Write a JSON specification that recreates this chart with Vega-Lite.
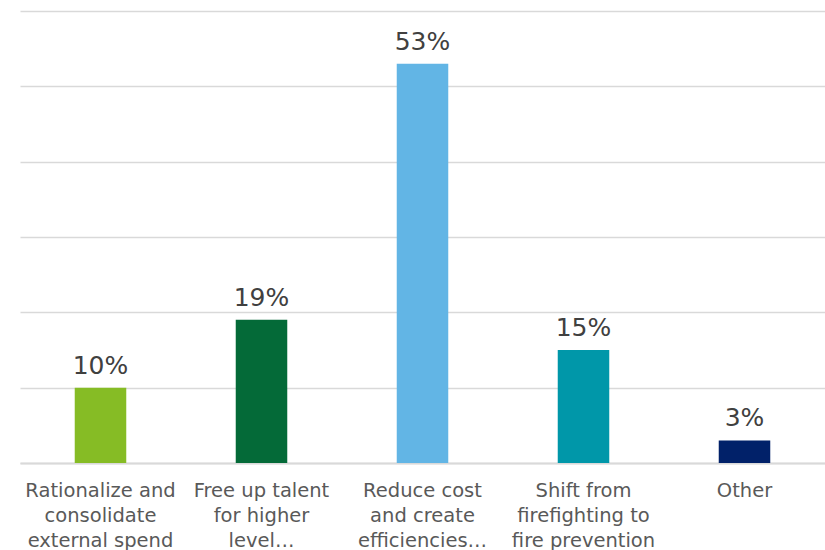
{
  "$schema": "https://vega.github.io/schema/vega-lite/v6.json",
  "width": 805,
  "height": 452,
  "autosize": {"type": "none"},
  "padding": {"left": 20, "top": 11, "right": 0, "bottom": 87},
  "background": "white",
  "config": {"view": {"stroke": null}, "font": "DejaVu Sans"},
  "data": {
    "values": [
      {"label": "Rationalize and|consolidate|external spend", "value": 0.10, "color": "#86bc25"},
      {"label": "Free up talent|for higher|level…", "value": 0.19, "color": "#046a38"},
      {"label": "Reduce cost|and create|efficiencies…", "value": 0.53, "color": "#62b5e5"},
      {"label": "Shift from|firefighting to|fire prevention", "value": 0.15, "color": "#0097a9"},
      {"label": "Other", "value": 0.03, "color": "#012169"}
    ]
  },
  "encoding": {
    "x": {
      "field": "label",
      "type": "nominal",
      "sort": null,
      "scale": {"paddingInner": 0.68, "paddingOuter": 0.34},
      "axis": {
        "title": null,
        "labelAngle": 0,
        "labelExpr": "split(datum.label, '|')",
        "labelFontSize": 19.5,
        "labelColor": "#595959",
        "labelLineHeight": 25,
        "labelPadding": 18,
        "labelLimit": 220,
        "ticks": false,
        "domainColor": "#d9d9d9",
        "domainWidth": 2
      }
    },
    "y": {
      "field": "value",
      "type": "quantitative",
      "scale": {"domain": [0, 0.6]},
      "axis": {
        "title": null,
        "labels": false,
        "ticks": false,
        "domain": false,
        "values": [0, 0.1, 0.2, 0.3, 0.4, 0.5, 0.6],
        "gridColor": "#d9d9d9",
        "gridWidth": 1.5
      }
    }
  },
  "layer": [
    {
      "mark": {"type": "bar"},
      "encoding": {"color": {"field": "color", "type": "nominal", "scale": null}}
    },
    {
      "mark": {"type": "text", "baseline": "alphabetic", "dy": -14, "fontSize": 25, "color": "#404040"},
      "encoding": {"text": {"field": "value", "type": "quantitative", "format": ".0%"}}
    }
  ]
}
